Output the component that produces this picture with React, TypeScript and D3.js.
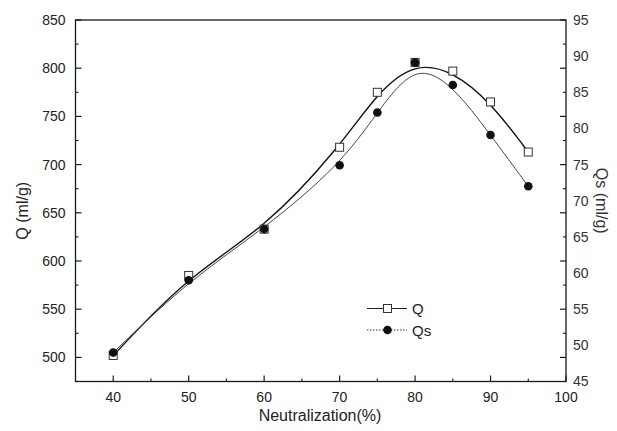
import React from "react";
import * as d3 from "d3";

const neutralization = [40, 50, 60, 70, 75, 80, 85, 90, 95];
const qValues = [502, 585, 633, 718, 775, 806, 797, 765, 713];
const qsValues = [49.0, 59.0, 66.1, 74.9, 82.2, 89.1, 86.0, 79.1, 72.0];
const xTicks = [40, 50, 60, 70, 80, 90, 100];
const xMinor = [45, 55, 65, 75, 85, 95];
const yTicks = [500, 550, 600, 650, 700, 750, 800, 850];
const yMinor = [475, 525, 575, 625, 675, 725, 775, 825];
const y2Ticks = [45, 50, 55, 60, 65, 70, 75, 80, 85, 90, 95];

const W = 617, H = 431;
const L = 75.5, R = 566, T = 20, B = 381.5;
const font = "'Liberation Sans', Arial, sans-serif";

export default function App() {
  const x = d3.scaleLinear().domain([35, 100]).range([L, R]);
  const y = d3.scaleLinear().domain([475, 850]).range([B, T]);
  const y2 = d3.scaleLinear().domain([45, 95]).range([B, T]);

  const qPts = neutralization.map((n, i) => [x(n), y(qValues[i])] as [number, number]);
  const qsPts = neutralization.map((n, i) => [x(n), y2(qsValues[i])] as [number, number]);
  const line = d3.line().curve(d3.curveBasis);

  const ink = "#1a1a1a";
  return (
    <svg width={W} height={H} style={{ position: "absolute", left: 0, top: 0, background: "#fff" }} fontFamily={font}>
      <rect x={0} y={0} width={W} height={H} fill="#fff" />
      {/* frame */}
      <rect x={L} y={T} width={R - L} height={B - T} fill="none" stroke={ink} strokeWidth={1.3} />
      {/* x ticks */}
      {xTicks.map((t) => (
        <g key={"xt" + t}>
          <line x1={x(t)} x2={x(t)} y1={B} y2={B - 6} stroke={ink} strokeWidth={1.2} />
          <text x={x(t)} y={B + 20} textAnchor="middle" fontSize={14} fill="#222">{t}</text>
        </g>
      ))}
      {xMinor.map((t) => (
        <line key={"xm" + t} x1={x(t)} x2={x(t)} y1={B} y2={B - 3} stroke={ink} strokeWidth={1.1} />
      ))}
      {/* left ticks */}
      {yTicks.map((t) => (
        <g key={"yt" + t}>
          <line x1={L} x2={L + 6} y1={y(t)} y2={y(t)} stroke={ink} strokeWidth={1.2} />
          <line x1={R} x2={R - 6} y1={y(t)} y2={y(t)} stroke={ink} strokeWidth={1.2} />
          <text x={L - 10} y={y(t)} dy="0.35em" textAnchor="end" fontSize={14} fill="#222">{t}</text>
        </g>
      ))}
      {yMinor.map((t) => (
        <g key={"ym" + t}>
          <line x1={L} x2={L + 3} y1={y(t)} y2={y(t)} stroke={ink} strokeWidth={1.1} />
          <line x1={R} x2={R - 3} y1={y(t)} y2={y(t)} stroke={ink} strokeWidth={1.1} />
        </g>
      ))}
      {/* right labels */}
      {y2Ticks.map((t) => (
        <text key={"y2" + t} x={R + 7} y={y2(t)} dy="0.35em" textAnchor="start" fontSize={14} fill="#333">{t}</text>
      ))}
      {/* axis titles */}
      <text x={320} y={421} textAnchor="middle" fontSize={16} fill="#222">Neutralization(%)</text>
      <text transform={`translate(28,${(T + B) / 2 + 10}) rotate(-90)`} textAnchor="middle" fontSize={16} fill="#222">Q (ml/g)</text>
      <text transform={`translate(596,${(T + B) / 2}) rotate(90)`} textAnchor="middle" fontSize={16} fill="#333">Qs (ml/g)</text>
      {/* curves */}
      <path d={line(qPts) || ""} fill="none" stroke="#111" strokeWidth={1.4} />
      <path d={line(qsPts) || ""} fill="none" stroke="#444" strokeWidth={1} />
      {/* markers */}
      {qPts.map(([px, py], i) => (
        <rect key={"q" + i} x={px - 4} y={py - 4} width={8} height={8} fill="#fff" stroke="#333" strokeWidth={1} />
      ))}
      {qsPts.map(([px, py], i) => (
        <circle key={"qs" + i} cx={px} cy={py} r={4.3} fill="#111" />
      ))}
      {/* legend */}
      <line x1={367} x2={407} y1={308.5} y2={308.5} stroke="#222" strokeWidth={1} />
      <rect x={383.5} y={304.5} width={8} height={8} fill="#fff" stroke="#333" strokeWidth={1} />
      <text x={412} y={314} fontSize={15} fill="#222">Q</text>
      <line x1={367} x2={407} y1={330} y2={330} stroke="#333" strokeWidth={1} strokeDasharray="1.5,1.5" />
      <circle cx={387.5} cy={330} r={4.3} fill="#111" />
      <text x={412} y={336} fontSize={15} fill="#222">Qs</text>
    </svg>
  );
}
